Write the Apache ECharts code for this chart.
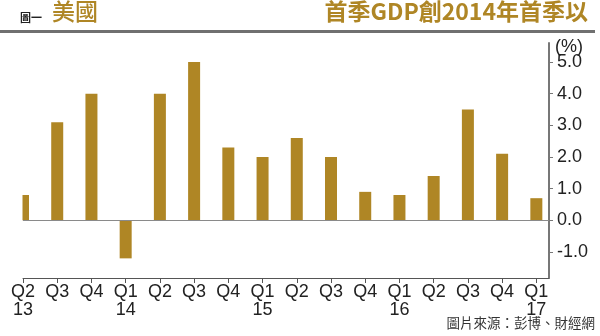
<!DOCTYPE html>
<html>
<head>
<meta charset="utf-8">
<script src="https://cdn.jsdelivr.net/npm/echarts@6/dist/echarts.min.js"></script>
<style>
html,body{margin:0;padding:0;background:#fff;}
#c{width:600px;height:336px;}
</style>
</head>
<body>
<div id="c"></div>
<script>
const categories = ['Q2\n13','Q3','Q4','Q1\n14','Q2','Q3','Q4','Q1\n15','Q2','Q3','Q4','Q1\n16','Q2','Q3','Q4','Q1\n17'];
const gdpGrowth = [0.8, 3.1, 4.0, -1.2, 4.0, 5.0, 2.3, 2.0, 2.6, 2.0, 0.9, 0.8, 1.4, 3.5, 2.1, 0.7];
const yTicks = [-1, 0, 1, 2, 3, 4, 5];
const titleLeft = '美國';
const titleTag = '圖一';
const titleRight = '首季GDP創2014年首季以';
const unitLabel = '(%)';
const sourceText = '圖片來源：彭博、財經網';

const GOLD = '#AF8625';
const FONT = '"Liberation Sans", Arial, sans-serif';
const CJK = '"Noto Sans CJK TC", "Noto Sans CJK SC", sans-serif';

const idx = categories.map((_, i) => i);
const chart = echarts.init(document.getElementById('c'), null, {renderer: 'canvas'});
chart.setOption({
  animation: false,
  backgroundColor: '#fff',
  grid: {left: 23, right: 51, top: 43, bottom: 58},
  xAxis: {
    type: 'value',
    min: 0,
    max: 15.37,
    splitLine: {show: false},
    axisLine: {show: true, onZero: false, lineStyle: {color: '#555', width: 1}},
    axisTick: {show: true, length: 5, customValues: idx, lineStyle: {color: '#555'}},
    axisLabel: {
      customValues: idx,
      formatter: v => categories[Math.round(v)],
      fontFamily: FONT, fontSize: 18, lineHeight: 18, color: '#222', margin: 5
    }
  },
  yAxis: {
    type: 'value',
    position: 'right',
    min: -1.82,
    max: 5.6,
    splitLine: {show: false},
    axisLine: {show: true, onZero: false, lineStyle: {color: '#777', width: 2}},
    axisTick: {show: true, length: 4, customValues: yTicks, lineStyle: {color: '#777', width: 1}},
    axisLabel: {
      customValues: yTicks,
      formatter: v => v.toFixed(1),
      fontFamily: FONT, fontSize: 18, color: '#222', margin: 8
    }
  },
  series: [{
    type: 'bar',
    data: gdpGrowth.map((v, i) => [i, v]),
    barWidth: 12,
    clip: true,
    itemStyle: {color: GOLD},
    markLine: {
      silent: true,
      symbol: 'none',
      label: {show: false},
      lineStyle: {color: '#8a8a8a', width: 1, type: 'solid'},
      data: [{yAxis: 0}]
    }
  }],
  graphic: [
    {type: 'rect', z: 100, shape: {x: 0, y: 40, width: 22.5, height: 238}, style: {fill: '#fff'}},
    {type: 'text', left: 20, top: 12, style: {text: titleTag, font: 'bold 11px ' + CJK, fill: '#222'}},
    {type: 'text', left: 52, top: 0, style: {text: titleLeft, font: '500 23px ' + CJK, fill: GOLD}},
    {type: 'text', right: 12, top: 0, style: {text: titleRight, font: 'bold 23px ' + CJK, fill: GOLD}},
    {type: 'rect', shape: {x: 0, y: 30, width: 595, height: 3}, style: {fill: '#707070'}},
    {type: 'text', left: 555, top: 38, style: {text: unitLabel, font: '18px ' + FONT, fill: '#222'}},
    {type: 'text', right: 5, top: 316, style: {text: sourceText, font: '13.5px ' + CJK, fill: '#333'}}
  ]
});
</script>
</body>
</html>
